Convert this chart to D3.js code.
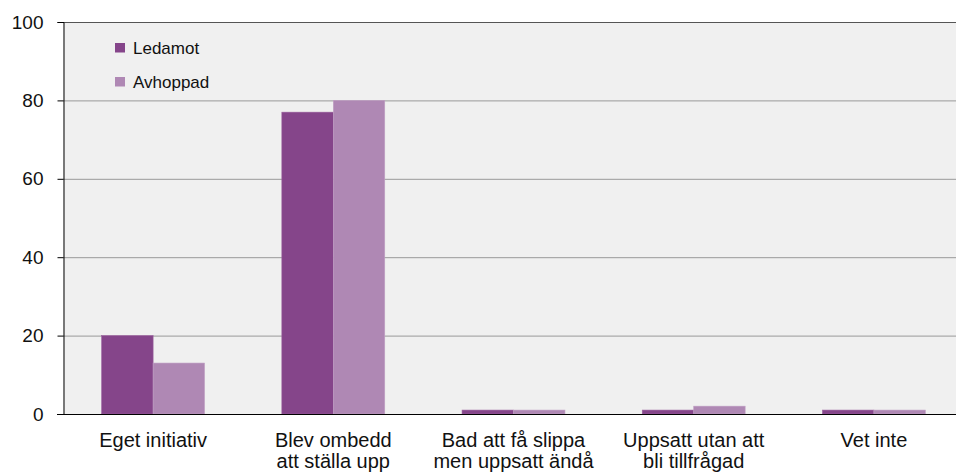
<!DOCTYPE html>
<html>
<head>
<meta charset="utf-8">
<script src="https://cdn.jsdelivr.net/npm/d3@7"></script>
<style>
  body { margin: 0; background: #fff; }
  text { font-family: "Liberation Sans", Arial, sans-serif; fill: #111; }
</style>
</head>
<body>
<svg id="chart"></svg>
<script>
// data
let categories = [
    ["Eget initiativ"],
    ["Blev ombedd", "att ställa upp"],
    ["Bad att få slippa", "men uppsatt ändå"],
    ["Uppsatt utan att", "bli tillfrågad"],
    ["Vet inte"]
];
let seriesNames = ["Ledamot", "Avhoppad"];
let ledamot = [20, 77, 1, 1, 1];
let avhoppad = [13, 80, 1, 2, 1];
let yTicks = [0, 20, 40, 60, 80, 100];

let W = 956, H = 475;
let margin = {left: 63, right: 0, top: 22, bottom: 61};
let colors = {"Ledamot": "#85458a", "Avhoppad": "#af88b4"};
let strokes = {"Ledamot": "#9a5f9e", "Avhoppad": "#c0a0c4"};

let svg = d3.select("#chart").attr("width", W).attr("height", H);

// the original plot is cut off on the right, so the band range runs past the edge
let x0 = d3.scaleBand()
    .domain(d3.range(categories.length))
    .range([margin.left, 964])
    .paddingInner(0.429)
    .paddingOuter(0.2145);

let x1 = d3.scaleBand()
    .domain(seriesNames)
    .range([0, x0.bandwidth()]);

let y = d3.scaleLinear()
    .domain([0, 100])
    .range([H - margin.bottom, margin.top]);

// plot background
svg.append("rect")
    .attr("x", margin.left)
    .attr("y", margin.top)
    .attr("width", W - margin.right - margin.left)
    .attr("height", y(0) - margin.top)
    .attr("fill", "#f0f0f0");

// grid
svg.append("g")
    .selectAll("line")
    .data(yTicks.filter(d => d > 0))
    .enter()
    .append("line")
    .attr("x1", margin.left)
    .attr("x2", W - margin.right)
    .attr("y1", d => y(d) + 0.5)
    .attr("y2", d => y(d) + 0.5)
    .attr("stroke", d => d === 100 ? "#555" : "#999")
    .attr("stroke-width", 1);

// bars
let rows = categories.map((c, i) => ({i: i, values: [ledamot[i], avhoppad[i]]}));

let groups = svg.append("g")
    .selectAll("g")
    .data(rows)
    .enter()
    .append("g")
    .attr("transform", d => "translate(" + x0(d.i) + ",0)");

groups.selectAll("rect")
    .data(d => seriesNames.map((s, k) => ({name: s, value: d.values[k]})))
    .enter()
    .append("rect")
    .attr("x", d => x1(d.name))
    .attr("width", x1.bandwidth())
    .attr("y", d => y(d.value))
    .attr("height", d => y(0) - y(d.value))
    .attr("fill", d => colors[d.name])
    .attr("stroke", d => strokes[d.name])
    .attr("stroke-width", 0.6);

// y axis
let yAxis = d3.axisLeft(y)
    .tickValues(yTicks)
    .tickSize(6)
    .tickPadding(14)
    .tickFormat(d3.format("d"));

let gy = svg.append("g")
    .attr("transform", "translate(" + (margin.left + 0.5) + ",0)")
    .call(yAxis);
gy.select(".domain").attr("stroke", "#000");
gy.selectAll(".tick line").attr("stroke", "#000");
gy.selectAll(".tick text")
    .attr("font-size", "19px")
    .attr("fill", "#111")
    .attr("font-family", "Liberation Sans, Arial, sans-serif");

// x axis baseline
svg.append("line")
    .attr("x1", margin.left - 6)
    .attr("x2", W - margin.right)
    .attr("y1", y(0) + 0.5)
    .attr("y2", y(0) + 0.5)
    .attr("stroke", "#000")
    .attr("stroke-width", 1.2);

// category labels
let labels = svg.append("g")
    .selectAll("text")
    .data(categories)
    .enter()
    .append("text")
    .attr("font-size", "20px")
    .style("text-anchor", "middle")
    .attr("x", (d, i) => x0(i) + x0.bandwidth() / 2)
    .attr("y", y(0) + 33);

labels.selectAll("tspan")
    .data(d => d)
    .enter()
    .append("tspan")
    .attr("x", function () { return d3.select(this.parentNode).attr("x"); })
    .attr("dy", (d, k) => k === 0 ? 0 : 21)
    .text(d => d);

// legend
let legend = svg.append("g")
    .selectAll("g")
    .data(seriesNames)
    .enter()
    .append("g")
    .attr("transform", (d, i) => "translate(115," + (43 + i * 34) + ")");

legend.append("rect")
    .attr("width", 10)
    .attr("height", 9.5)
    .attr("fill", d => colors[d]);

legend.append("text")
    .attr("x", 18)
    .attr("y", 11)
    .attr("font-size", "17px")
    .text(d => d);
</script>
</body>
</html>
